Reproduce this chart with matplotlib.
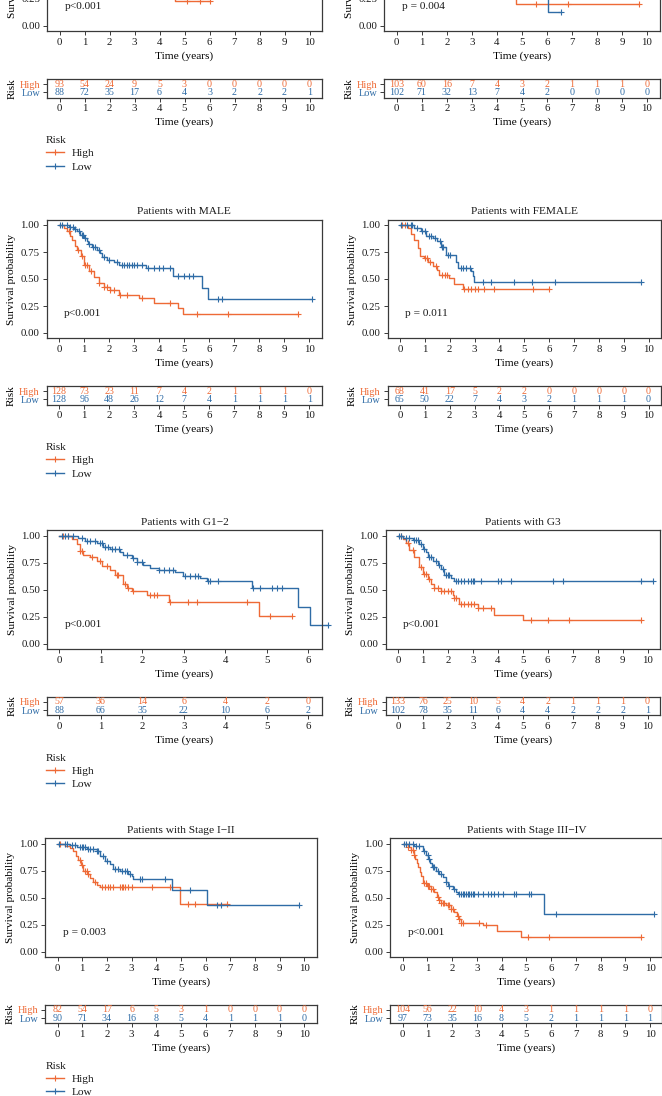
import numpy as np
import matplotlib.pyplot as plt
from matplotlib.lines import Line2D
from matplotlib.transforms import blended_transform_factory

plt.rcParams['font.family'] = ['Liberation Serif', 'DejaVu Serif']
plt.rcParams['text.color'] = '#1a1a1a'

HIGH_COLOR = '#EE6A36'
LOW_COLOR = '#2F6CA6'
FRAME = '#3a3a3a'

# ---- data ----
titles = ['Patients with age<=65', 'Patients with age>65', 'Patients with MALE', 'Patients with FEMALE',
          'Patients with G1\u22122', 'Patients with G3', 'Patients with Stage I\u2212II',
          'Patients with Stage III\u2212IV']
pvals = ['p<0.001', 'p = 0.004', 'p<0.001', 'p = 0.011', 'p<0.001', 'p<0.001', 'p = 0.003', 'p<0.001']

# top row (only the lower part is visible)
age1_high_t = [0, 4.6]
age1_high_s = [0.35, 0.23]
age1_high_cens = [5.1, 5.6, 6.0]
age1_low_t = [0]
age1_low_s = [0.45]
age1_low_cens = [10.1]

age2_high_t = [0, 4.77]
age2_high_s = [0.30, 0.206]
age2_high_cens = [5.57, 6.84, 9.68]
age2_low_t = [0, 6.03]
age2_low_s = [0.30, 0.132]
age2_low_cens = [6.56]

male_high_t = [0, 0.2, 0.33, 0.43, 0.53, 0.63, 0.73, 0.86, 1.0, 1.19, 1.39, 1.59, 1.79, 2.05, 2.38, 3.18, 3.81, 4.77, 4.97]
male_high_s = [1.0, 0.97, 0.94, 0.90, 0.86, 0.81, 0.77, 0.71, 0.63, 0.57, 0.52, 0.46, 0.43, 0.40, 0.35, 0.32, 0.275, 0.23, 0.18]
male_high_cens = [0.40, 0.75, 0.93, 1.02, 1.10, 1.26, 1.59, 1.81, 1.92, 2.05, 2.19, 2.45, 2.72, 3.31, 4.44, 5.5, 6.75, 9.54]
male_low_t = [0, 0.4, 0.6, 0.73, 0.85, 1.0, 1.1, 1.15, 1.3, 1.52, 1.62, 1.72, 1.9, 2.19, 2.38, 3.47, 4.57, 5.7, 5.96]
male_low_s = [1.0, 0.98, 0.96, 0.94, 0.91, 0.88, 0.85, 0.82, 0.80, 0.77, 0.74, 0.70, 0.68, 0.66, 0.63, 0.60, 0.525, 0.42, 0.312]
male_low_cens = [0.05, 0.1, 0.3, 0.45, 0.55, 0.65, 0.8, 0.9, 0.95, 1.05, 1.2, 1.35, 1.45, 1.6, 1.8, 2.0, 2.3, 2.5,
                 2.6, 2.7, 2.8, 2.9, 3.0, 3.1, 3.3, 3.55, 3.8, 4.0, 4.15, 4.45, 4.75, 5.0, 5.2, 5.35, 6.35, 6.5, 10.1]

female_high_t = [0, 0.31, 0.44, 0.58, 0.71, 0.82, 0.98, 1.11, 1.31, 1.49, 1.58, 1.98, 2.18, 2.52]
female_high_s = [1.0, 0.97, 0.92, 0.86, 0.79, 0.71, 0.69, 0.66, 0.62, 0.58, 0.54, 0.51, 0.45, 0.41]
female_high_cens = [0.1, 0.2, 1.0, 1.1, 1.2, 1.45, 1.7, 1.8, 1.9, 2.59, 2.72, 2.86, 3.0, 3.12, 3.39, 3.79, 5.34, 6.0]
female_low_t = [0, 0.58, 0.85, 1.05, 1.31, 1.51, 1.65, 1.85, 2.25, 2.32, 2.86, 2.92, 2.99]
female_low_s = [1.0, 0.97, 0.94, 0.90, 0.88, 0.85, 0.80, 0.72, 0.66, 0.60, 0.57, 0.53, 0.47]
female_low_cens = [0.05, 0.3, 0.45, 0.5, 0.7, 0.9, 1.0, 1.15, 1.25, 1.4, 1.6, 1.7, 1.75, 1.95, 2.0, 2.45, 2.55,
                   2.65, 2.8, 3.35, 3.65, 4.6, 5.3, 6.25, 9.7]

g12_high_t = [0, 0.30, 0.42, 0.50, 0.58, 0.75, 0.90, 1.02, 1.22, 1.34, 1.54, 1.62, 1.74, 2.10, 2.63, 4.80]
g12_high_s = [1.0, 0.97, 0.92, 0.86, 0.82, 0.80, 0.77, 0.72, 0.68, 0.64, 0.55, 0.52, 0.49, 0.45, 0.39, 0.26]
g12_high_cens = [0.10, 0.22, 0.50, 0.54, 0.78, 0.98, 1.14, 1.38, 1.42, 1.58, 1.66, 1.78, 2.18, 2.27, 2.35, 2.67,
                 3.11, 3.31, 4.51, 5.08, 5.60]
g12_low_t = [0, 0.46, 0.62, 0.9, 1.06, 1.22, 1.46, 1.54, 1.74, 1.86, 2.02, 2.18, 2.39, 2.79, 2.99, 3.39, 3.55,
             4.63, 5.76, 6.04]
g12_low_s = [1.0, 0.98, 0.95, 0.93, 0.90, 0.88, 0.85, 0.82, 0.79, 0.76, 0.73, 0.70, 0.68, 0.66, 0.63, 0.61, 0.58,
             0.52, 0.34, 0.17]
g12_low_cens = [0.06, 0.14, 0.22, 0.34, 0.54, 0.66, 0.74, 0.86, 0.98, 1.02, 1.10, 1.18, 1.26, 1.35, 1.43, 1.62,
                1.78, 1.86, 1.98, 2.39, 2.51, 2.63, 2.75, 3.03, 3.15, 3.27, 3.35, 3.59, 3.63, 3.83, 4.67, 4.84,
                5.12, 5.24, 5.36, 6.48]

g3_high_t = [0, 0.19, 0.32, 0.45, 0.65, 0.85, 0.99, 1.19, 1.32, 1.45, 1.72, 2.19, 2.26, 2.46, 3.19, 3.86, 4.99]
g3_high_s = [1.0, 0.97, 0.93, 0.87, 0.80, 0.71, 0.65, 0.60, 0.55, 0.52, 0.49, 0.45, 0.42, 0.37, 0.33, 0.27, 0.22]
g3_high_cens = [0.12, 0.39, 0.59, 0.92, 1.05, 1.12, 1.25, 1.45, 1.59, 1.72, 1.86, 1.99, 2.12, 2.26, 2.32, 2.52,
                2.66, 2.79, 2.92, 3.06, 3.19, 3.39, 3.72, 5.33, 6.0, 6.86, 9.73]
g3_low_t = [0, 0.19, 0.59, 0.85, 0.99, 1.12, 1.19, 1.39, 1.59, 1.72, 1.86, 2.12, 2.26]
g3_low_s = [1.0, 0.98, 0.96, 0.92, 0.88, 0.85, 0.80, 0.77, 0.73, 0.69, 0.64, 0.61, 0.58]
g3_low_cens = [0.05, 0.12, 0.32, 0.45, 0.65, 0.72, 0.79, 0.92, 1.05, 1.25, 1.32, 1.52, 1.66, 1.79, 1.92, 1.99,
               2.06, 2.32, 2.39, 2.52, 2.66, 2.79, 2.92, 2.99, 3.06, 3.32, 3.99, 4.13, 4.53, 6.23, 6.6, 9.73, 10.2]

s12_high_t = [0, 0.30, 0.50, 0.64, 0.74, 0.84, 0.95, 1.04, 1.20, 1.31, 1.45, 1.58, 1.72, 4.97]
s12_high_s = [1.0, 0.98, 0.96, 0.93, 0.89, 0.85, 0.80, 0.75, 0.72, 0.68, 0.65, 0.62, 0.60, 0.44]
s12_high_cens = [0.09, 0.91, 0.97, 1.11, 1.18, 1.24, 1.52, 1.79, 1.92, 2.06, 2.12, 2.26, 2.53, 2.60, 2.67, 2.73,
                 2.87, 3.0, 3.82, 4.56, 5.30, 5.57, 6.86]
s12_low_t = [0, 0.50, 0.77, 1.18, 1.58, 1.72, 1.92, 2.12, 2.26, 2.53, 2.87, 3.0, 3.07, 4.63, 6.05]
s12_low_s = [1.0, 0.99, 0.97, 0.95, 0.93, 0.89, 0.84, 0.81, 0.77, 0.75, 0.72, 0.70, 0.67, 0.57, 0.43]
s12_low_cens = [0.07, 0.3, 0.37, 0.57, 0.7, 0.91, 0.97, 1.04, 1.11, 1.24, 1.31, 1.45, 1.58, 1.65, 1.85, 1.99,
                2.33, 2.46, 2.60, 2.73, 2.80, 2.94, 3.34, 3.41, 4.36, 5.37, 6.48, 6.62, 9.77]

s34_high_t = [0, 0.2, 0.34, 0.44, 0.5, 0.57, 0.63, 0.71, 0.74, 0.81, 0.98, 1.15, 1.28, 1.39, 1.48, 1.55, 1.75,
              1.95, 2.09, 2.2, 2.29, 2.36, 3.23, 3.81, 4.78]
s34_high_s = [1.0, 0.97, 0.94, 0.90, 0.86, 0.82, 0.78, 0.74, 0.70, 0.64, 0.61, 0.58, 0.55, 0.51, 0.48, 0.45, 0.43,
              0.40, 0.37, 0.33, 0.30, 0.27, 0.25, 0.19, 0.14]
s34_high_cens = [0.2, 0.34, 0.40, 0.47, 0.88, 0.94, 1.01, 1.08, 1.15, 1.21, 1.42, 1.48, 1.55, 1.62, 1.69, 1.82,
                 1.89, 1.95, 2.02, 2.22, 2.29, 2.36, 2.43, 3.1, 3.37, 5.05, 5.93, 9.64]
s34_low_t = [0, 0.47, 0.81, 0.94, 1.04, 1.12, 1.19, 1.35, 1.48, 1.62, 1.75, 1.82, 2.02, 2.16, 2.25, 5.73]
s34_low_s = [1.0, 0.98, 0.93, 0.90, 0.86, 0.82, 0.78, 0.75, 0.72, 0.69, 0.65, 0.61, 0.58, 0.55, 0.53, 0.35]
s34_low_cens = [0.07, 0.13, 0.27, 0.4, 0.54, 0.67, 0.88, 1.01, 1.08, 1.21, 1.28, 1.42, 1.55, 1.75, 1.89, 2.09,
                2.29, 2.36, 2.43, 2.49, 2.56, 2.63, 2.7, 2.76, 2.83, 2.9, 3.03, 3.23, 3.44, 3.57, 3.71, 3.84,
                4.04, 4.52, 4.58, 5.12, 5.19, 6.2, 10.15]

# numbers at risk
age1_risk_high = [93, 54, 24, 9, 5, 3, 0, 0, 0, 0, 0]
age1_risk_low = [88, 72, 35, 17, 6, 4, 3, 2, 2, 2, 1]
age2_risk_high = [103, 60, 16, 7, 4, 3, 2, 1, 1, 1, 0]
age2_risk_low = [102, 71, 32, 13, 7, 4, 2, 0, 0, 0, 0]
male_risk_high = [128, 73, 23, 11, 7, 4, 2, 1, 1, 1, 0]
male_risk_low = [128, 96, 48, 26, 12, 7, 4, 1, 1, 1, 1]
female_risk_high = [68, 41, 17, 5, 2, 2, 0, 0, 0, 0, 0]
female_risk_low = [65, 50, 22, 7, 4, 3, 2, 1, 1, 1, 0]
g12_risk_high = [57, 36, 14, 6, 4, 2, 0]
g12_risk_low = [88, 66, 35, 22, 10, 6, 2]
g3_risk_high = [133, 76, 25, 10, 5, 4, 2, 1, 1, 1, 0]
g3_risk_low = [102, 78, 35, 11, 6, 4, 4, 2, 2, 2, 1]
s12_risk_high = [82, 54, 17, 6, 5, 3, 1, 0, 0, 0, 0]
s12_risk_low = [90, 71, 34, 16, 8, 5, 4, 1, 1, 1, 0]
s34_risk_high = [104, 56, 22, 10, 4, 3, 1, 1, 1, 1, 0]
s34_risk_low = [97, 73, 35, 16, 8, 5, 2, 1, 1, 1, 1]

panels = [
    (age1_high_t, age1_high_s, age1_high_cens, age1_low_t, age1_low_s, age1_low_cens, age1_risk_high, age1_risk_low),
    (age2_high_t, age2_high_s, age2_high_cens, age2_low_t, age2_low_s, age2_low_cens, age2_risk_high, age2_risk_low),
    (male_high_t, male_high_s, male_high_cens, male_low_t, male_low_s, male_low_cens, male_risk_high, male_risk_low),
    (female_high_t, female_high_s, female_high_cens, female_low_t, female_low_s, female_low_cens,
     female_risk_high, female_risk_low),
    (g12_high_t, g12_high_s, g12_high_cens, g12_low_t, g12_low_s, g12_low_cens, g12_risk_high, g12_risk_low),
    (g3_high_t, g3_high_s, g3_high_cens, g3_low_t, g3_low_s, g3_low_cens, g3_risk_high, g3_risk_low),
    (s12_high_t, s12_high_s, s12_high_cens, s12_low_t, s12_low_s, s12_low_cens, s12_risk_high, s12_risk_low),
    (s34_high_t, s34_high_s, s34_high_cens, s34_low_t, s34_low_s, s34_low_cens, s34_risk_high, s34_risk_low),
]

# ---- layout in pixels ----
W, H = 662, 1096
row_zero_px = [26, 333, 643.7, 951.7]          # pixel row of survival 0.00
frames_px = [(47, 322), (384.2, 659.5), (46.5, 322), (387.5, 661),
             (47.3, 321.7), (385.5, 660), (45.3, 316.5), (390.3, 662.4)]
xlims = [(-0.5, 10.5)] * 4 + [(-0.29, 6.32)] + [(-0.5, 10.5)] * 3

FS = 8.2


def px_rect(x0, x1, ytop, ybot):
    return [x0 / W, 1 - ybot / H, (x1 - x0) / W, (ybot - ytop) / H]


def style_axes(ax):
    for sp in ax.spines.values():
        sp.set_color(FRAME)
        sp.set_linewidth(0.9)
    ax.tick_params(direction='out', length=3, width=0.7, color=FRAME, labelsize=7.8, pad=2,
                   labelcolor='#1a1a1a')


def km_curve(ax, t, s, cens, color):
    end = max(t[-1], max(cens))
    ax.step(list(t) + [end], list(s) + [s[-1]], where='post', color=color, lw=1.0, clip_on=False)
    idx = np.searchsorted(t, cens, side='right') - 1
    ax.plot(cens, np.array(s)[idx], ls='none', marker='+', color=color, ms=4.8, mew=0.8, clip_on=False)


fig = plt.figure(figsize=(W / 100, H / 100), dpi=100)

for i, (ht, hs, hc, lt, ls, lc, rh, rl) in enumerate(panels):
    row = i // 2
    y0 = row_zero_px[row]
    x0, x1 = frames_px[i]
    xl = xlims[i]
    ticks = np.arange(0, len(rh))

    ax = fig.add_axes(px_rect(x0, x1, y0 - 113.4, y0 + 5.4))
    km_curve(ax, ht, hs, hc, HIGH_COLOR)
    km_curve(ax, lt, ls, lc, LOW_COLOR)
    ax.set_xlim(*xl)
    ax.set_ylim(-0.05, 1.05)
    ax.set_xticks(ticks)
    ax.set_yticks([0, 0.25, 0.5, 0.75, 1.0])
    ax.set_yticklabels(['0.00', '0.25', '0.50', '0.75', '1.00'])
    ax.set_xlabel('Time (years)', fontsize=FS, labelpad=3)
    ax.set_ylabel('Survival probability', fontsize=FS, labelpad=3)
    ax.set_title(titles[i], fontsize=FS, pad=4)
    trans = blended_transform_factory(ax.transAxes, ax.transData)
    ax.text(0.064, 0.18, pvals[i], transform=trans, fontsize=FS, va='center', ha='left')
    style_axes(ax)

    rax = fig.add_axes(px_rect(x0, x1, y0 + 53, y0 + 71.5))
    for k, n in enumerate(rh):
        rax.text(ticks[k], 1, str(n), color=HIGH_COLOR, fontsize=7.2, ha='center', va='center')
    for k, n in enumerate(rl):
        rax.text(ticks[k], 0, str(n), color=LOW_COLOR, fontsize=7.2, ha='center', va='center')
    rax.set_xlim(*xl)
    rax.set_ylim(-0.6, 1.6)
    rax.set_xticks(ticks)
    rax.set_yticks([1, 0])
    rax.set_yticklabels(['High', 'Low'])
    rax.set_xlabel('Time (years)', fontsize=FS, labelpad=3)
    rax.set_ylabel('Risk', fontsize=FS, labelpad=2)
    style_axes(rax)
    for lab, c in zip(rax.get_yticklabels(), [HIGH_COLOR, LOW_COLOR]):
        lab.set_color(c)
        lab.set_fontsize(7.4)

    if i % 2 == 0:
        handles = [Line2D([], [], color=HIGH_COLOR, lw=1.0, marker='+', ms=4.8, mew=0.8),
                   Line2D([], [], color=LOW_COLOR, lw=1.0, marker='+', ms=4.8, mew=0.8)]
        fig.legend(handles, ['High', 'Low'], title='Risk', loc='upper left',
                   bbox_to_anchor=(46 / W, 1 - (y0 + 110) / H), frameon=False, fontsize=FS,
                   title_fontsize=FS, handlelength=1.6, handletextpad=0.7, labelspacing=0.3,
                   borderpad=0, borderaxespad=0, alignment='left')

fig.savefig('out.png', dpi=100)
